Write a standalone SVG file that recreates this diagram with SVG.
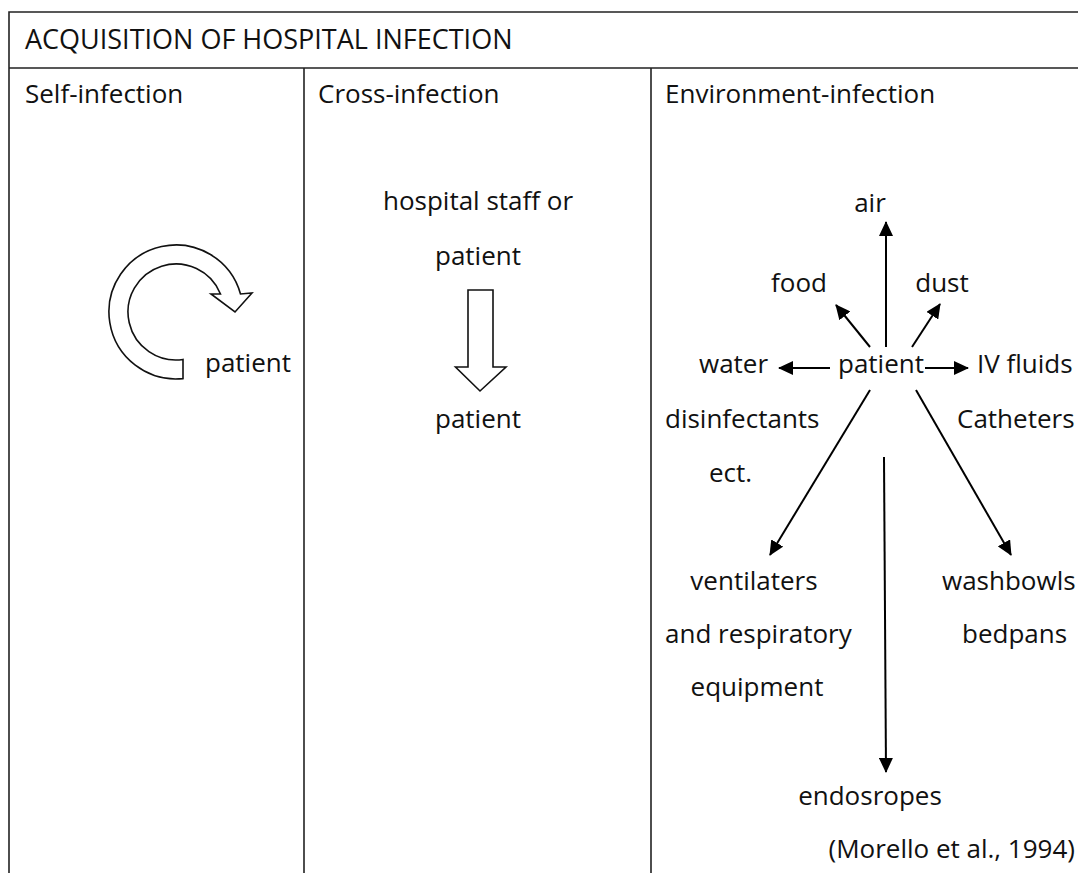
<svg xmlns="http://www.w3.org/2000/svg" width="1078" height="873" viewBox="0 0 1078 873">
<style>
text{font-family:"Open Sans","Noto Sans","Liberation Sans",sans-serif;font-size:26px;fill:#111}
.t{font-weight:500;font-size:27px}
.m{text-anchor:middle}
.e{text-anchor:end}
.grid{stroke:#222;stroke-width:1.6;fill:none}
.c{stroke:#000;stroke-width:2;fill:none;marker-end:url(#ah)}
.hollow{fill:#fff;stroke:#111;stroke-width:1.6;stroke-linejoin:miter}
</style>
<defs>
<marker id="ah" markerUnits="userSpaceOnUse" markerWidth="16" markerHeight="14" refX="14" refY="7" orient="auto">
<path d="M0,0 L15,7 L0,14 Z" fill="#000"/>
</marker>
</defs>
<rect width="1078" height="873" fill="#fff"/>
<g id="table">
<path class="grid" d="M9,873 V12 H1078 M9,68 H1078 M304,68 V873 M651,68 V873"/>
<text class="t" x="25" y="49">ACQUISITION OF HOSPITAL INFECTION</text>
<text x="25" y="103">Self-infection</text>
<text x="318" y="103">Cross-infection</text>
<text x="665" y="103">Environment-infection</text>
</g>
<g id="self">
<path class="hollow" d="M183,378.6 A67,67 0 1 1 240.5,294 L252,293 L235,312 L211,294 L220.5,294 A48,48 0 1 0 183,359.5 Z"/>
<text x="205" y="372">patient</text>
</g>
<g id="cross">
<text class="m" x="478" y="210">hospital staff or</text>
<text class="m" x="478" y="265">patient</text>
<path class="hollow" d="M468,290 H493 V367 H506 L480,391 L455.5,367 H468 Z"/>
<text class="m" x="478" y="428">patient</text>
</g>
<g id="env-nodes">
<text class="m" x="881" y="373">patient</text>
<text class="m" x="870" y="212">air</text>
<text class="m" x="799" y="292">food</text>
<text class="m" x="942" y="292">dust</text>
<text x="699" y="373">water</text>
<text x="977" y="373">IV fluids</text>
<text x="665" y="428">disinfectants</text>
<text x="709" y="482">ect.</text>
<text x="957" y="428">Catheters</text>
<text class="m" x="754" y="590">ventilaters</text>
<text x="665" y="643">and respiratory</text>
<text class="m" x="757" y="696">equipment</text>
<text x="942" y="590">washbowls</text>
<text x="962" y="643">bedpans</text>
<text class="m" x="870" y="805">endosropes</text>
<text class="e" x="1075" y="858">(Morello et al., 1994)</text>
</g>
<g id="connectors">
<line class="c" x1="886" y1="347" x2="886" y2="222"/>
<line class="c" x1="870" y1="347" x2="836" y2="305"/>
<line class="c" x1="912" y1="347" x2="940" y2="304"/>
<line class="c" x1="830" y1="368" x2="779" y2="368"/>
<line class="c" x1="925" y1="368" x2="968" y2="368"/>
<line class="c" x1="870" y1="390" x2="770" y2="555"/>
<line class="c" x1="916" y1="390" x2="1011" y2="555"/>
<line class="c" x1="884" y1="457" x2="886" y2="772"/>
</g>
</svg>
